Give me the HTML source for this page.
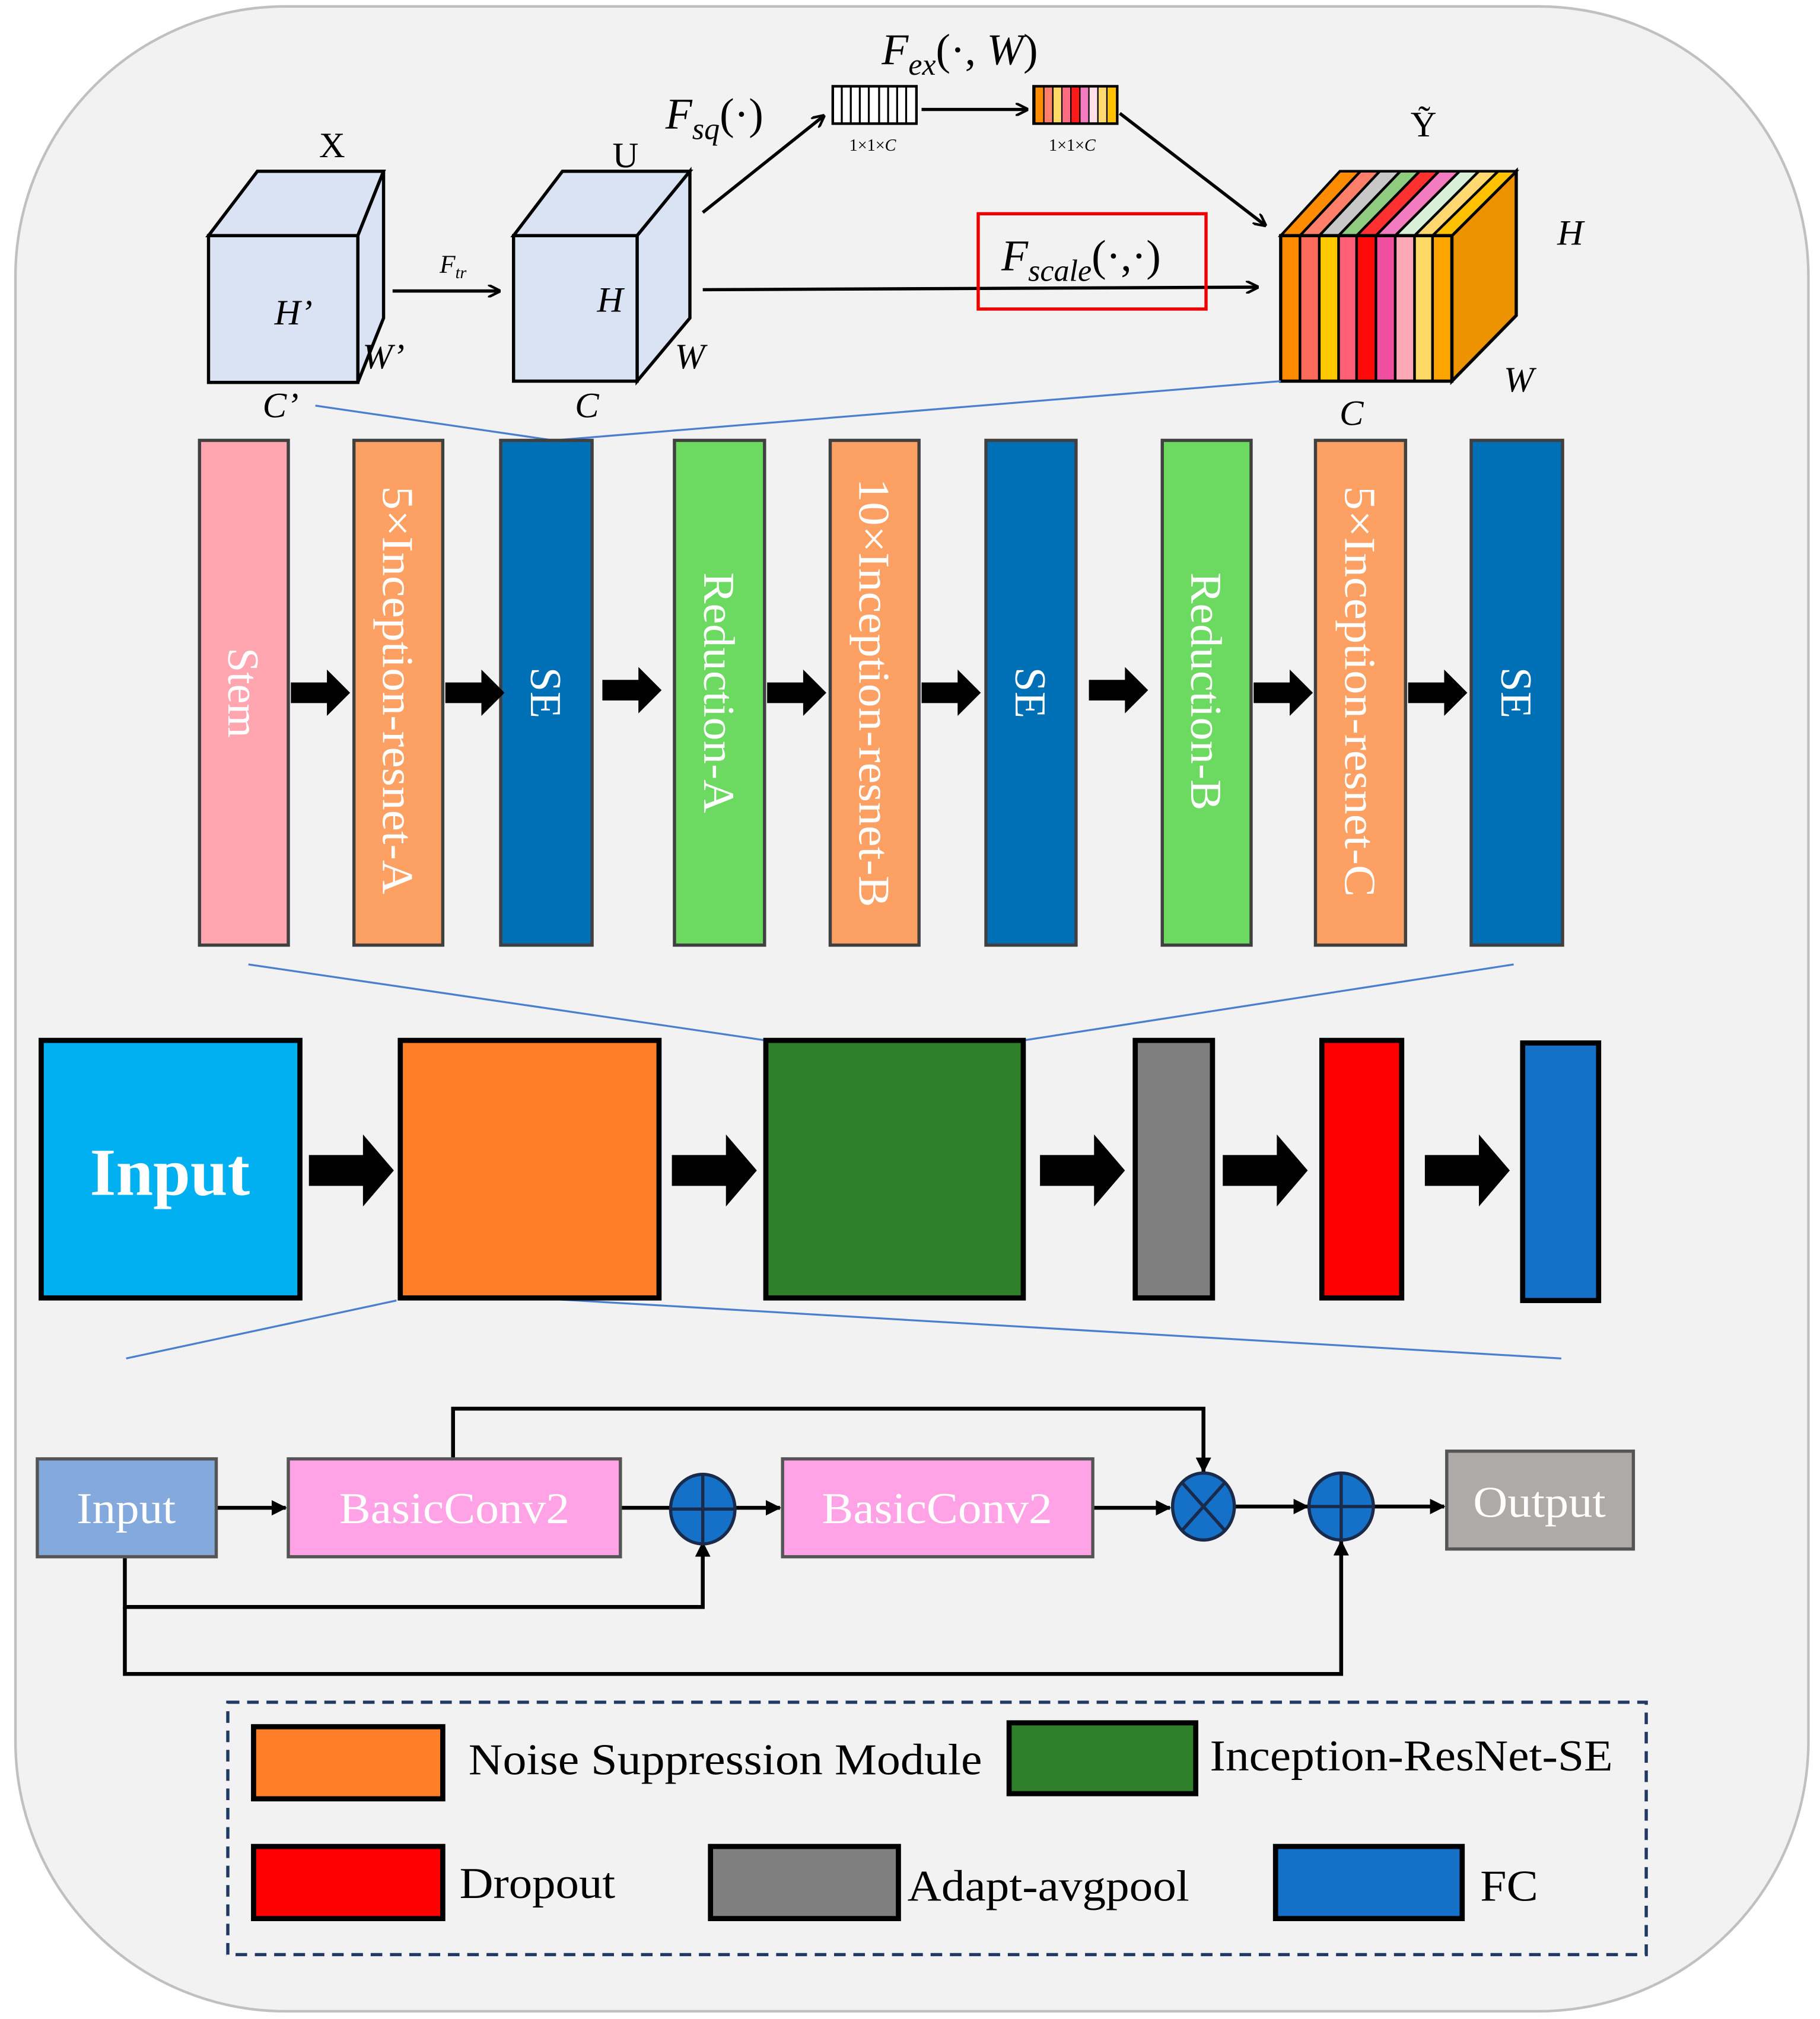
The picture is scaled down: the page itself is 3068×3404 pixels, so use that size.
<!DOCTYPE html>
<html><head><meta charset="utf-8"><style>html,body{margin:0;padding:0;background:#fff}svg{display:block}</style></head><body>
<svg width="3068" height="3404" viewBox="0 0 1414 1568" preserveAspectRatio="none" xmlns="http://www.w3.org/2000/svg" font-family="Liberation Serif, serif">
<defs>
<marker id="ah" markerWidth="10" markerHeight="10" refX="9" refY="5" orient="auto" markerUnits="userSpaceOnUse"><path d="M0,0 L10,5 L0,10" fill="none" stroke="#000" stroke-width="2"/></marker>
<marker id="af" markerWidth="12" markerHeight="12" refX="11" refY="6" orient="auto" markerUnits="userSpaceOnUse"><path d="M0,0 L12,6 L0,12 z" fill="#000"/></marker>
<g id="barr"><path d="M0,-8 H28 V-18 L46,0 L28,18 V8 H0 z" fill="#000"/></g>
<g id="bigarr"><path d="M0,-12 H42 V-28 L66,0 L42,28 V12 H0 z" fill="#000"/></g>
</defs>
<rect x="12" y="5" width="1393" height="1557" rx="210" ry="210" fill="#f2f2f2" stroke="#c0c0c0" stroke-width="2"/>

<g stroke="#000" stroke-width="2.5" fill="#dae3f3">
<path d="M162,183 L200,133 L298,133 L278,183 z"/>
<path d="M278,183 L298,133 L298,247 L278,297 z"/>
<rect x="162" y="183" width="116" height="114"/>
<path d="M399,183 L437,133 L536,133 L495,183 z"/>
<path d="M495,183 L536,133 L536,247 L495,296 z"/>
<rect x="399" y="183" width="96" height="113"/>
</g>
<g font-style="italic" font-size="28" text-anchor="middle">
<text x="258" y="122" font-style="normal">X</text>
<text x="228" y="252">H’</text>
<text x="298" y="286">W’</text>
<text x="218" y="324">C’</text>
<text x="486" y="130" font-style="normal">U</text>
<text x="474" y="242">H</text>
<text x="536" y="286">W</text>
<text x="456" y="324">C</text>
<text x="1106" y="106" font-style="normal">Ỹ</text>
<text x="1220" y="190">H</text>
<text x="1180" y="304">W</text>
<text x="1050" y="330">C</text>
<text x="352" y="212" font-size="20">F<tspan font-size="13" dy="4">tr</tspan></text>
</g>
<line x1="305" y1="226" x2="388" y2="226" stroke="#000" stroke-width="2.5" marker-end="url(#ah)"/>
<line x1="546" y1="165" x2="640" y2="90" stroke="#000" stroke-width="2.5" marker-end="url(#ah)"/>
<line x1="716" y1="85" x2="798" y2="85" stroke="#000" stroke-width="2.5" marker-end="url(#ah)"/>
<line x1="870" y1="88" x2="983" y2="175" stroke="#000" stroke-width="2.5" marker-end="url(#ah)"/>
<line x1="546" y1="225" x2="977" y2="223" stroke="#000" stroke-width="2.5" marker-end="url(#ah)"/>
<rect x="760" y="166" width="177" height="74" fill="none" stroke="#e00" stroke-width="2.5"/>
<g font-style="italic" font-size="34">
<text x="517" y="100">F<tspan font-size="24" dy="8">sq</tspan><tspan dy="-8" font-style="normal">(·)</tspan></text>
<text x="685" y="50">F<tspan font-size="24" dy="8">ex</tspan><tspan dy="-8" font-style="normal">(·, </tspan>W<tspan font-style="normal">)</tspan></text>
<text x="778" y="210">F<tspan font-size="24" dy="8">scale</tspan><tspan dy="-8" font-style="normal">(·,·)</tspan></text>
</g>
<rect x="647" y="67" width="65" height="29" fill="#fff" stroke="#000" stroke-width="2"/>
<g stroke="#000" stroke-width="1.5">
<line x1="654" y1="67" x2="654" y2="96"/><line x1="661" y1="67" x2="661" y2="96"/><line x1="668" y1="67" x2="668" y2="96"/><line x1="675" y1="67" x2="675" y2="96"/><line x1="683" y1="67" x2="683" y2="96"/><line x1="690" y1="67" x2="690" y2="96"/><line x1="697" y1="67" x2="697" y2="96"/><line x1="704" y1="67" x2="704" y2="96"/>
</g>
<g stroke="#000" stroke-width="1">
<rect x="804" y="67" width="7" height="29" fill="#ff8c00"/><rect x="811" y="67" width="7" height="29" fill="#ff7f6b"/><rect x="818" y="67" width="7" height="29" fill="#ffd966"/><rect x="825" y="67" width="7" height="29" fill="#ff6b82"/><rect x="832" y="67" width="7" height="29" fill="#ff1a1a"/><rect x="839" y="67" width="7" height="29" fill="#f27cbf"/><rect x="846" y="67" width="7" height="29" fill="#ffe0e8"/><rect x="853" y="67" width="7" height="29" fill="#ffd970"/><rect x="860" y="67" width="8" height="29" fill="#ffc000"/>
</g>
<rect x="803" y="67" width="65" height="29" fill="none" stroke="#000" stroke-width="2"/>
<text x="678" y="117" font-size="13" text-anchor="middle">1×1×<tspan font-style="italic">C</tspan></text>
<text x="833" y="117" font-size="13" text-anchor="middle">1×1×<tspan font-style="italic">C</tspan></text>

<g stroke="#000" stroke-width="2.5">
<path d="M1128,183 L1178,133 L1178,245 L1128,296 z" fill="#ed9200"/>
</g>
<g stroke="#000" stroke-width="2">
<path d="M995,183 L1041,133 L1057,133 L1010,183 z" fill="#ff8c00"/>
<path d="M1010,183 L1057,133 L1072,133 L1025,183 z" fill="#ff7f6b"/>
<path d="M1025,183 L1072,133 L1088,133 L1040,183 z" fill="#c8c8c8"/>
<path d="M1040,183 L1088,133 L1103,133 L1054,183 z" fill="#90cc80"/>
<path d="M1054,183 L1103,133 L1118,133 L1069,183 z" fill="#ff3030"/>
<path d="M1069,183 L1118,133 L1134,133 L1084,183 z" fill="#f27cbf"/>
<path d="M1084,183 L1134,133 L1149,133 L1099,183 z" fill="#d8efd8"/>
<path d="M1099,183 L1149,133 L1164,133 L1113,183 z" fill="#ffd970"/>
<path d="M1113,183 L1164,133 L1178,133 L1128,183 z" fill="#ffc000"/>
<rect x="995" y="183" width="15" height="113" fill="#ff8c00"/>
<rect x="1010" y="183" width="15" height="113" fill="#ff6b5b"/>
<rect x="1025" y="183" width="15" height="113" fill="#ffc800"/>
<rect x="1040" y="183" width="14" height="113" fill="#ff6077"/>
<rect x="1054" y="183" width="15" height="113" fill="#ff0a0a"/>
<rect x="1069" y="183" width="15" height="113" fill="#f04fa0"/>
<rect x="1084" y="183" width="15" height="113" fill="#ffa9b8"/>
<rect x="1099" y="183" width="14" height="113" fill="#ffd966"/>
<rect x="1113" y="183" width="15" height="113" fill="#ffa500"/>
</g>
<rect x="995" y="183" width="133" height="113" fill="none" stroke="#000" stroke-width="2.5"/>

<g stroke="#4a7fd0" stroke-width="1.5" fill="none">
<polyline points="245,315 430,342 995,296"/>
<line x1="193" y1="749" x2="595" y2="808"/>
<line x1="1176" y1="749" x2="795" y2="808"/>
<line x1="308" y1="1010" x2="98" y2="1055"/>
<line x1="414" y1="1008" x2="1213" y2="1055"/>
</g>

<g stroke="#404040" stroke-width="2.5">
<rect x="155" y="342" width="69" height="392" fill="#ffa6b0"/>
<rect x="275" y="342" width="69" height="392" fill="#fca163"/>
<rect x="389" y="342" width="71" height="392" fill="#0070b6"/>
<rect x="524" y="342" width="70" height="392" fill="#6cda60"/>
<rect x="645" y="342" width="69" height="392" fill="#fca163"/>
<rect x="766" y="342" width="70" height="392" fill="#0070b6"/>
<rect x="903" y="342" width="69" height="392" fill="#6cda60"/>
<rect x="1022" y="342" width="70" height="392" fill="#fca163"/>
<rect x="1143" y="342" width="71" height="392" fill="#0070b6"/>
</g>
<g fill="#fff" font-size="34" text-anchor="middle">
<text transform="translate(189.5,538) rotate(90)" dy="12">Stem</text>
<text transform="translate(309.5,536) rotate(90)" dy="12" textLength="317" lengthAdjust="spacingAndGlyphs">5×Inception-resnet-A</text>
<text transform="translate(424.5,538) rotate(90)" dy="12">SE</text>
<text transform="translate(559,538) rotate(90)" dy="12" textLength="187" lengthAdjust="spacingAndGlyphs">Reduction-A</text>
<text transform="translate(679.5,538) rotate(90)" dy="12" textLength="333" lengthAdjust="spacingAndGlyphs">10×Inception-resnet-B</text>
<text transform="translate(801,538) rotate(90)" dy="12">SE</text>
<text transform="translate(937.5,537) rotate(90)" dy="12" textLength="185" lengthAdjust="spacingAndGlyphs">Reduction-B</text>
<text transform="translate(1057,537) rotate(90)" dy="12" textLength="319" lengthAdjust="spacingAndGlyphs">5×Inception-resnet-C</text>
<text transform="translate(1178.5,538) rotate(90)" dy="12">SE</text>
</g>
<use href="#barr" x="226" y="538"/>
<use href="#barr" x="346" y="538"/>
<use href="#barr" x="468" y="536"/>
<use href="#barr" x="596" y="538"/>
<use href="#barr" x="716" y="538"/>
<use href="#barr" x="846" y="536"/>
<use href="#barr" x="974" y="538"/>
<use href="#barr" x="1094" y="538"/>

<g stroke="#000" stroke-width="4">
<rect x="32" y="808" width="201" height="200" fill="#00b0f0"/>
<rect x="311" y="808" width="201" height="200" fill="#fe7f27"/>
<rect x="595" y="808" width="200" height="200" fill="#2e812a"/>
<rect x="882" y="808" width="60" height="200" fill="#7f7f7f"/>
<rect x="1027" y="808" width="62" height="200" fill="#ff0000"/>
<rect x="1183" y="810" width="59" height="200" fill="#1570c8"/>
</g>
<text x="132" y="928" fill="#fff" font-size="52" font-weight="bold" text-anchor="middle">Input</text>
<use href="#bigarr" x="240" y="909"/>
<use href="#bigarr" x="522" y="909"/>
<use href="#bigarr" x="808" y="909"/>
<use href="#bigarr" x="950" y="909"/>
<use href="#bigarr" x="1107" y="909"/>

<g stroke="#000" stroke-width="3" fill="none">
<polyline points="352,1133 352,1094 935,1094 935,1143" marker-end="url(#af)"/>
<polyline points="97,1209 97,1248 546,1248 546,1198" marker-end="url(#af)"/>
<polyline points="97,1248 97,1300 1042,1300 1042,1197" marker-end="url(#af)"/>
<line x1="168" y1="1171" x2="222" y2="1171" marker-end="url(#af)"/>
<line x1="482" y1="1171" x2="520" y2="1171"/>
<line x1="572" y1="1171" x2="606" y2="1171" marker-end="url(#af)"/>
<line x1="849" y1="1171" x2="909" y2="1171" marker-end="url(#af)"/>
<line x1="960" y1="1170" x2="1016" y2="1170" marker-end="url(#af)"/>
<line x1="1068" y1="1170" x2="1122" y2="1170" marker-end="url(#af)"/>
</g>
<g stroke="#555" stroke-width="2.5">
<rect x="29" y="1133" width="139" height="76" fill="#84a9dd"/>
<rect x="224" y="1133" width="258" height="76" fill="#ffa3e6"/>
<rect x="608" y="1133" width="241" height="76" fill="#ffa3e6"/>
<rect x="1124" y="1127" width="145" height="76" fill="#aeaaa8"/>
</g>
<g fill="#fff" font-size="34" text-anchor="middle">
<text x="98" y="1183" textLength="77" lengthAdjust="spacingAndGlyphs">Input</text>
<text x="353" y="1183" textLength="179" lengthAdjust="spacingAndGlyphs">BasicConv2</text>
<text x="728" y="1183" textLength="179" lengthAdjust="spacingAndGlyphs">BasicConv2</text>
<text x="1196" y="1178" textLength="103" lengthAdjust="spacingAndGlyphs">Output</text>
</g>
<g stroke="#1a2a4a" stroke-width="2.5" fill="#1570c8">
<ellipse cx="546" cy="1172" rx="25" ry="27"/>
<ellipse cx="935" cy="1170" rx="24" ry="26"/>
<ellipse cx="1042" cy="1170" rx="25" ry="26"/>
</g>
<g stroke="#1a2a4a" stroke-width="2.5">
<line x1="521" y1="1172" x2="571" y2="1172"/><line x1="546" y1="1145" x2="546" y2="1199"/>
<line x1="1017" y1="1170" x2="1067" y2="1170"/><line x1="1042" y1="1144" x2="1042" y2="1196"/>
<line x1="918" y1="1151" x2="952" y2="1189"/><line x1="952" y1="1151" x2="918" y2="1189"/>
</g>

<rect x="177" y="1322" width="1102" height="196" fill="none" stroke="#1f3864" stroke-width="2.5" stroke-dasharray="9,6"/>
<g stroke="#000" stroke-width="4">
<rect x="197" y="1341" width="147" height="56" fill="#fe7f27"/>
<rect x="784" y="1338" width="145" height="55" fill="#2e812a"/>
<rect x="197" y="1434" width="147" height="56" fill="#ff0000"/>
<rect x="552" y="1434" width="146" height="56" fill="#7f7f7f"/>
<rect x="991" y="1434" width="145" height="56" fill="#1570c8"/>
</g>
<g font-size="34" fill="#000" lengthAdjust="spacingAndGlyphs">
<text x="364" y="1378" textLength="399" lengthAdjust="spacingAndGlyphs">Noise Suppression Module</text>
<text x="940" y="1375" textLength="313" lengthAdjust="spacingAndGlyphs">Inception-ResNet-SE</text>
<text x="357" y="1474" textLength="121" lengthAdjust="spacingAndGlyphs">Dropout</text>
<text x="705" y="1476" textLength="219" lengthAdjust="spacingAndGlyphs">Adapt-avgpool</text>
<text x="1150" y="1476" textLength="45" lengthAdjust="spacingAndGlyphs">FC</text>
</g>
</svg>
</body></html>
